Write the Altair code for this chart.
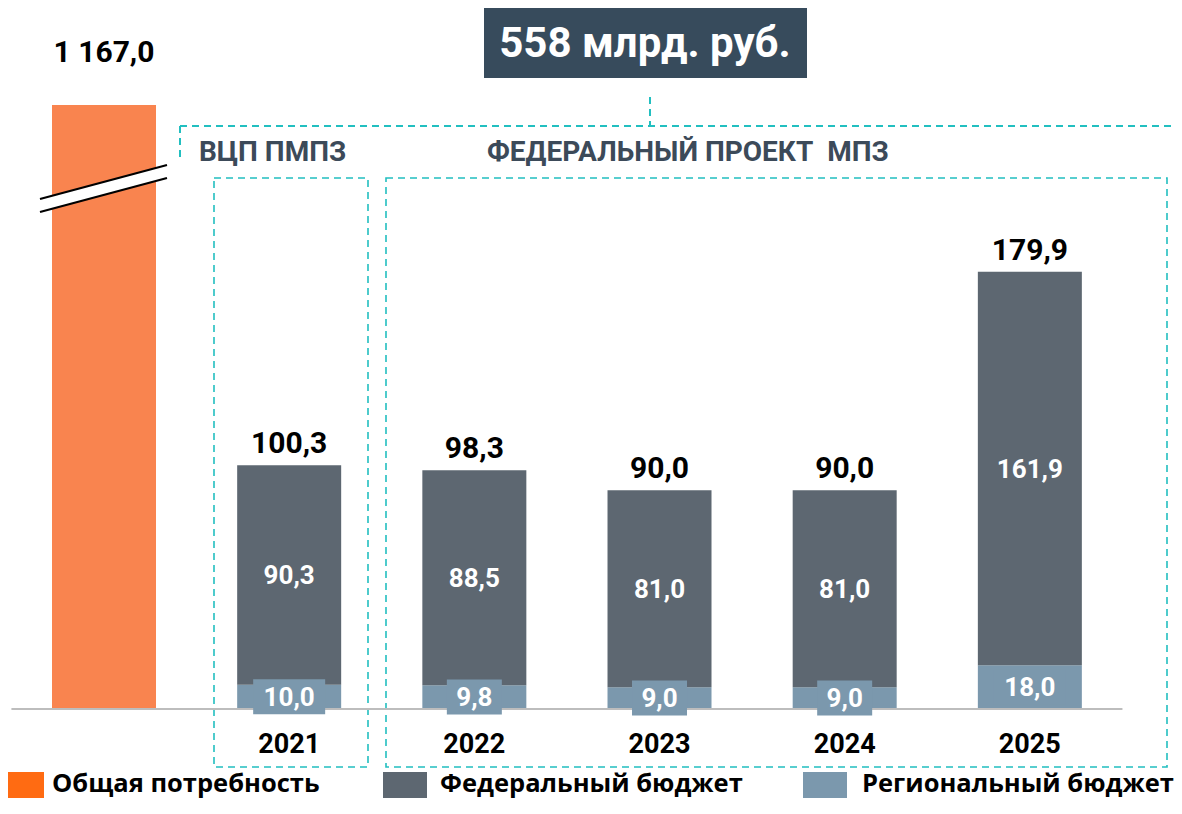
import altair as alt
import pandas as pd

# ---------------- data ----------------
years = ["2021", "2022", "2023", "2024", "2025"]
federal = [90.3, 88.5, 81.0, 81.0, 161.9]
regional = [10.0, 9.8, 9.0, 9.0, 18.0]
totals = [100.3, 98.3, 90.0, 90.0, 179.9]
total_need = 1167.0
total_need_cap = 248.6          # drawn height of the broken bar
series_names = ["Общая потребность", "Федеральный бюджет", "Региональный бюджет"]
series_colors = ["#F9844F", "#5D6771", "#7B98AD"]
legend_colors = ["#FF6B12", "#5D6771", "#7B98AD"]
title_text = "558 млрд. руб."
header_left = "ВЦП ПМПЗ"
header_right = "ФЕДЕРАЛЬНЫЙ ПРОЕКТ\u00a0\u00a0МПЗ"

TEAL = "#22BFC0"
DARK = "#374B5C"
HEAD = "#3C4A59"
FONT = "Roboto"

# ---------------- layout helpers ----------------
W, H = 1166, 790
X_ORIGIN, X_STEP = 104.0, 185.17   # page px of first category centre, px per category
Y_BASE, Y_PX = 709.0, 2.43         # page px of zero line, px per unit
PAGE_LEFT, PAGE_TOP = 8, 8


def xd(px):
    return (px - X_ORIGIN) / X_STEP


def yd(py):
    return (Y_BASE - py) / Y_PX


XDOM = [xd(PAGE_LEFT), xd(PAGE_LEFT + W)]
YDOM = [yd(PAGE_TOP + H), yd(PAGE_TOP)]
HALF = 52 / X_STEP


def fmt(v):
    s = f"{v:,.1f}".replace(",", "\u00a0").replace(".", ",")
    return s


def X(f="x"):
    return alt.X(f"{f}:Q", scale=alt.Scale(domain=XDOM, nice=False, zero=False), axis=None)


def Y(f="y"):
    return alt.Y(f"{f}:Q", scale=alt.Scale(domain=YDOM, nice=False, zero=False), axis=None)


def text_layer(df, size, color, weight="bold", align="center", baseline="middle", dy=0, font=FONT):
    return alt.Chart(df).mark_text(
        fontSize=size, fontWeight=weight, color=color, align=align,
        baseline=baseline, dy=dy, font=font
    ).encode(x=X(), y=Y(), text="t:N")


# ---------------- bars ----------------
rows = [{"x": 0, "x1": -HALF, "x2": HALF, "y": 0, "y2": total_need_cap, "s": series_names[0]}]
for i, (f, r) in enumerate(zip(federal, regional), start=1):
    rows.append({"x": i, "x1": i - HALF, "x2": i + HALF, "y": 0, "y2": r, "s": series_names[2]})
    rows.append({"x": i, "x1": i - HALF, "x2": i + HALF, "y": r, "y2": r + f, "s": series_names[1]})
bars_df = pd.DataFrame(rows)

bars = alt.Chart(bars_df).mark_rect().encode(
    x=X("x1"), x2=alt.X2("x2"), y=Y("y"), y2=alt.Y2("y2"),
    color=alt.Color("s:N", scale=alt.Scale(domain=series_names, range=series_colors), legend=None),
)

# dashed group frames
frames_df = pd.DataFrame([
    {"x": xd(214), "x2": xd(368), "y": yd(178), "y2": yd(767)},
    {"x": xd(386), "x2": xd(1167), "y": yd(178), "y2": yd(767)},
])
frames = alt.Chart(frames_df).mark_rect(
    filled=False, stroke=TEAL, strokeWidth=1.6, strokeDash=[7, 5]
).encode(x=X("x"), x2=alt.X2("x2"), y=Y("y"), y2=alt.Y2("y2"))

outer_df = pd.DataFrame([
    {"x": xd(180), "x2": xd(1182), "y": yd(126), "y2": yd(126)},
    {"x": xd(180), "x2": xd(180), "y": yd(126), "y2": yd(158)},
    {"x": xd(650), "x2": xd(650), "y": yd(97), "y2": yd(126)},
])
outer = alt.Chart(outer_df).mark_rule(
    stroke=TEAL, strokeWidth=2, strokeDash=[7, 5]
).encode(x=X("x"), x2=alt.X2("x2"), y=Y("y"), y2=alt.Y2("y2"))

# title box
title_box = alt.Chart(pd.DataFrame([{"x": xd(484), "x2": xd(807), "y": yd(7), "y2": yd(78)}])).mark_rect(
    color=DARK).encode(x=X("x"), x2=alt.X2("x2"), y=Y("y"), y2=alt.Y2("y2"))
title_t = text_layer(pd.DataFrame([{"x": xd(645), "y": yd(44), "t": title_text}]), 42, "white")

# axis break on total bar
brk_df = pd.DataFrame([
    {"x": xd(40), "y": yd(199), "y2": yd(212)},
    {"x": xd(167), "y": yd(165), "y2": yd(178)},
])
brk_fill = alt.Chart(brk_df).mark_area(color="white", opacity=1).encode(
    x=X("x"), y=Y("y"), y2=alt.Y2("y2"))
brk_lines_df = pd.DataFrame([
    {"x": xd(40), "x2": xd(167), "y": yd(199), "y2": yd(165)},
    {"x": xd(40), "x2": xd(167), "y": yd(212), "y2": yd(178)},
])
brk_lines = alt.Chart(brk_lines_df).mark_rule(color="black", strokeWidth=2.2).encode(
    x=X("x"), x2=alt.X2("x2"), y=Y("y"), y2=alt.Y2("y2"))

# baseline
base = alt.Chart(pd.DataFrame([{"x": -0.5, "x2": 5.5, "y": 0}])).mark_rule(
    color="#BDBDBD", strokeWidth=2).encode(x=X("x"), x2=alt.X2("x2"), y=Y("y"))

# regional label boxes + labels
reg_rows, reg_box = [], []
for i, r in enumerate(regional, start=1):
    lab = fmt(r)
    hw = (17 * len(lab) + 4) / 2 / X_STEP
    reg_rows.append({"x": i, "y": r / 2, "t": lab})
    reg_box.append({"x": i - hw, "x2": i + hw, "y": r / 2 - 17.5 / Y_PX, "y2": r / 2 + 17.5 / Y_PX})
reg_boxes = alt.Chart(pd.DataFrame(reg_box)).mark_rect(color=series_colors[2]).encode(
    x=X("x"), x2=alt.X2("x2"), y=Y("y"), y2=alt.Y2("y2"))
reg_text = text_layer(pd.DataFrame(reg_rows), 26, "white", dy=1)

fed_text = text_layer(pd.DataFrame([
    {"x": i, "y": r + f / 2, "t": fmt(f)} for i, (f, r) in enumerate(zip(federal, regional), start=1)
]), 26, "white", dy=1)

tot_text = text_layer(pd.DataFrame([
    {"x": i, "y": t, "t": fmt(t)} for i, t in enumerate(totals, start=1)
]), 30, "black", baseline="alphabetic", dy=-12)

need_text = text_layer(pd.DataFrame([{"x": 0, "y": yd(62), "t": fmt(total_need)}]), 30, "black",
                       baseline="alphabetic")

year_text = text_layer(pd.DataFrame([
    {"x": i, "y": yd(745), "t": y} for i, y in enumerate(years, start=1)
]), 27, "black")

heads = text_layer(pd.DataFrame([
    {"x": xd(199), "y": yd(153), "t": header_left},
    {"x": xd(487), "y": yd(153), "t": header_right},
]), 28, HEAD, align="left")

# legend
leg_sq = pd.DataFrame([
    {"x": xd(0), "x2": xd(44), "y": yd(772), "y2": yd(798), "s": series_names[0]},
    {"x": xd(383), "x2": xd(427), "y": yd(772), "y2": yd(798), "s": series_names[1]},
    {"x": xd(803), "x2": xd(847), "y": yd(772), "y2": yd(798), "s": series_names[2]},
])
leg_rect = alt.Chart(leg_sq).mark_rect().encode(
    x=X("x"), x2=alt.X2("x2"), y=Y("y"), y2=alt.Y2("y2"),
    color=alt.Color("s:N", scale=alt.Scale(domain=series_names, range=legend_colors), legend=None),
)
leg_text = text_layer(pd.DataFrame([
    {"x": xd(52), "y": yd(784), "t": series_names[0]},
    {"x": xd(440), "y": yd(784), "t": series_names[1]},
    {"x": xd(862), "y": yd(784), "t": series_names[2]},
]), 25.5, "black", align="left", font="Open Sans")

chart = alt.layer(
    frames, outer, title_box, title_t, bars, brk_fill, brk_lines, base,
    reg_boxes, reg_text, fed_text, tot_text, need_text, year_text, heads, leg_rect, leg_text
).resolve_scale(color="independent").properties(
    width=W, height=H, padding=0, autosize=alt.AutoSizeParams(type="none")
).configure_view(stroke=None)

chart.save("out.html", embed_options={"renderer": "svg", "actions": False})
